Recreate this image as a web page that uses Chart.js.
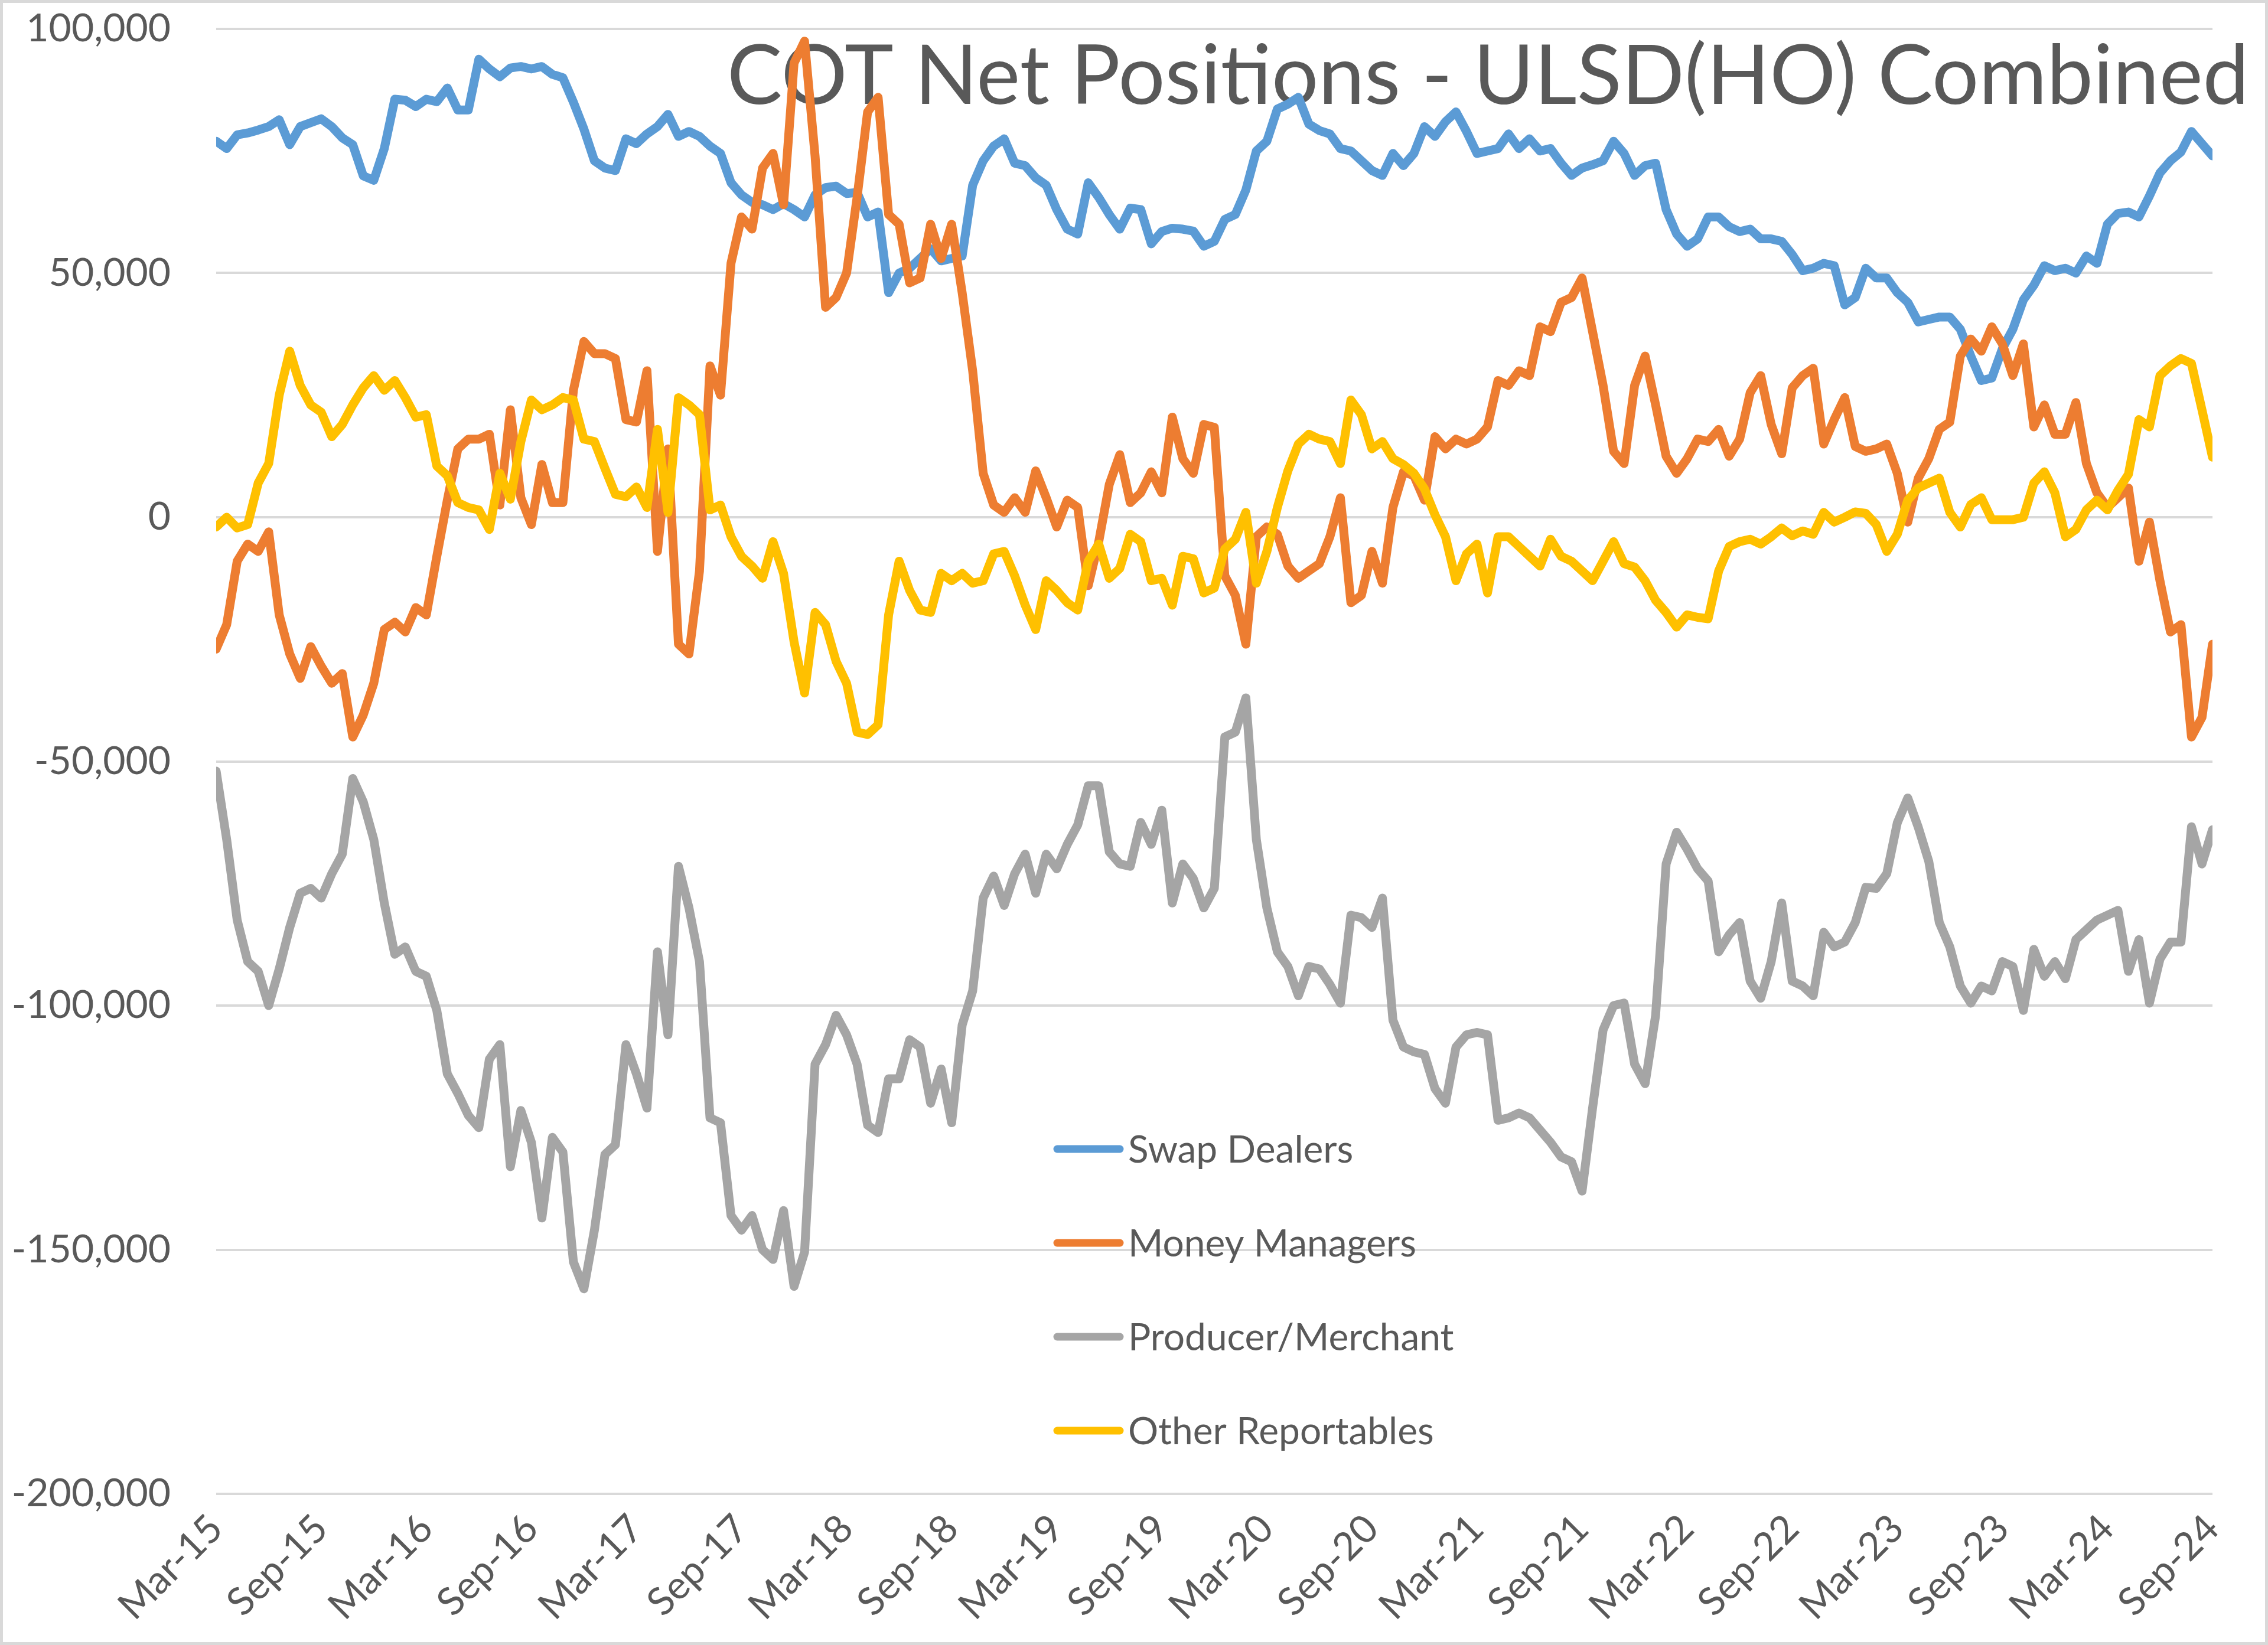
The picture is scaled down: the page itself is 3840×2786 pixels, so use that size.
<!DOCTYPE html>
<html>
<head>
<meta charset="utf-8">
<title>COT Net Positions - ULSD(HO) Combined</title>
<script src="https://cdn.jsdelivr.net/npm/chart.js@4.4.1/dist/chart.umd.min.js"></script>
<style>
  html, body { margin: 0; padding: 0; background: #fff; }
  canvas { display: block; }
</style>
</head>
<body>
<canvas id="cot" width="3840" height="2786"></canvas>
<script>
// ---- data (net positions, thousands of contracts, ~2.6 week steps, Mar-15 .. Sep-24) ----
const chartTitle = 'COT Net Positions - ULSD(HO) Combined';

// one label every 10 points (half-year)
const tickLabels = ['Mar-15', 'Sep-15', 'Mar-16', 'Sep-16', 'Mar-17', 'Sep-17', 'Mar-18', 'Sep-18',
  'Mar-19', 'Sep-19', 'Mar-20', 'Sep-20', 'Mar-21', 'Sep-21', 'Mar-22', 'Sep-22', 'Mar-23', 'Sep-23',
  'Mar-24', 'Sep-24'];

const swapDealers = [
  77, 75.5, 78.3, 78.7, 79.3, 80, 81.4, 76.3, 80, 80.8, 81.6, 80, 77.7, 76.3, 69.9, 69, 75.5, 85.6, 85.4, 84.1,
  85.6, 85.1, 87.9, 83.4, 83.4, 93.8, 91.8, 90.2, 92, 92.3, 91.8, 92.3, 90.7,
  90, 85, 79.5, 73, 71.5, 71, 77.5, 76.5, 78.5, 80, 82.5, 78, 79, 78, 76, 74.5, 68.5, 66, 64.5, 64,
  63, 64.2, 63, 61.5, 66, 67.5, 67.8, 66.3, 66.5, 61.5, 62.5, 46,
  50, 51, 53, 55, 52.5, 53, 53.5, 68, 73, 76, 77.5, 72.5, 72, 69.5, 68, 63, 59, 58, 68.5, 65.5,
  62, 59, 63.3, 63, 56, 58.5, 59.2, 59, 58.6, 55.5, 56.5, 61, 62,
  67, 75, 77, 83.6, 84.6, 86, 80.5, 79.2, 78.5, 75.5, 75, 73, 71, 70, 74.5, 72, 74.5, 80, 78, 81,
  83, 79, 74.5, 75, 75.5, 78.5, 75.5, 77.5, 75, 75.5, 72.5, 70, 71.5,
  72.2, 73, 77, 74.5, 70, 72, 72.5, 63, 58, 55.5, 57, 61.5, 61.5, 59.5, 58.5, 59, 57, 57, 56.5, 53.8,
  50.5, 51, 52, 51.5, 43.5, 45, 51, 49, 49, 46, 44, 40,
  40.5, 41, 41, 38.5, 33, 28, 28.5, 34.5, 38.5, 44.5, 47.5, 51.5, 50.5, 51, 50, 53.5, 52, 60, 62.2, 62.5,
  61.5, 65.8, 70.5, 73, 74.8, 79, 76.5, 74
];

const moneyManagers = [
  -27, -22, -9, -5.5, -7, -3, -20, -28, -33, -26.5, -30.5, -34, -32, -45, -40.5, -34, -23, -21.5, -23.5, -18.5,
  -20, -8, 3.5, 14, 16, 16, 17, 2.5, 22, 4, -1.5, 10.8, 3,
  3, 26, 36, 33.5, 33.5, 32.5, 20, 19.5, 30, -7, 14, -26, -28, -11, 31, 25, 52, 61.5, 59, 71.5,
  74.5, 64, 93, 97.5, 74, 43, 45, 50, 65.5, 83, 86, 62,
  60, 48, 49, 60, 53, 60, 46, 30, 9, 2.5, 1, 4, 1, 9.5, 4, -2, 3.5, 2, -14, -5,
  6.7, 12.8, 3, 5, 9.3, 5, 20.5, 12, 9, 19, 18.4, -12, -16,
  -26, -4, -2, -3.5, -10, -12.5, -11, -9.5, -4, 4, -17.5, -16, -7, -13.5, 2, 9.3, 8.5, 3.5, 16.5, 14,
  16, 15, 16, 18.5, 28, 27, 30, 29, 39, 38, 44, 45, 49,
  38, 27, 13.5, 11, 27, 33, 23, 12.5, 9, 12, 16, 15.5, 18, 12.5, 16, 25.5, 29, 19, 13, 26.5,
  29, 30.5, 15, 20, 24.5, 14.5, 13.5, 14, 15, 9, -1, 8,
  12, 18, 19.5, 33, 36.5, 34, 39, 35.5, 29, 35.5, 18.5, 23, 17, 17, 23.5, 11, 5, 2, 4, 6,
  -9, -1, -13, -23.5, -22, -45, -41, -26
];

const producerMerchant = [
  -52, -66, -82.5, -91, -93, -100, -92.5, -84, -77, -76, -78, -73, -69, -53.5, -58.3, -66, -79, -89.5, -88, -93,
  -94, -101, -114, -118, -122.5, -125, -111, -108, -133, -121.5, -128, -143.5, -127,
  -130, -152.5, -158, -146, -130.5, -128.5, -108, -114, -121, -89, -106, -71.5, -80, -91, -123, -124, -143, -146, -143, -150,
  -152, -142, -157.5, -150.5, -112, -108, -102, -106, -112, -124.5, -126, -115,
  -115, -107, -108.5, -120, -113, -124, -104, -97, -78, -73.5, -79.5, -73, -69, -77, -69, -72, -67, -63, -55, -55,
  -68.5, -71, -71.5, -62.5, -67, -60, -79, -71, -74, -80, -76, -45, -44,
  -37, -66, -80, -89, -92, -98, -92, -92.5, -95.7, -99.5, -81.5, -82, -84, -78, -103, -108.5, -109.5, -110, -117, -120,
  -108.5, -106, -105.5, -106, -123.5, -123, -122, -123, -125.5, -128, -131, -132, -138,
  -121, -105, -100, -99.5, -112, -116, -102, -71, -64.5, -68, -72, -74.5, -89, -85.5, -83, -95, -98.5, -91, -79, -95,
  -96, -98, -85, -88, -87, -83, -75.8, -76, -73, -62.6, -57.5, -63.5,
  -70.5, -83, -88, -96, -99.5, -96, -97, -91, -92, -101, -88.5, -94, -91, -94.5, -86.5, -84.5, -82.5, -81.5, -80.5, -93,
  -86.5, -99.5, -90.5, -87, -87, -63.4, -71, -64
];

const otherReportables = [
  -2, 0, -2.2, -1.5, 7, 11, 25, 34, 27, 23, 21.5, 16.5, 19, 23, 26.5, 29, 26, 28, 24.5, 20.5,
  21, 10.5, 8.5, 3, 2, 1.5, -2.5, 9, 3.7, 15.5, 24, 22, 23,
  24.5, 24, 16, 15.5, 10, 4.7, 4.2, 6.2, 2, 18, 1, 24.5, 23, 21, 1.5, 2.5, -4, -8, -10, -12.5,
  -5, -11.5, -25.5, -36, -19.5, -22, -29.5, -34, -44, -44.5, -42.5, -20,
  -9, -15, -19, -19.5, -11.5, -13, -11.5, -13.5, -13, -7.5, -7, -12, -18, -23, -13, -15, -17.5, -19, -9, -5.5,
  -12.5, -10.5, -3.5, -5, -13, -12.5, -18, -8, -8.5, -15.5, -14.5, -6.5, -4.5,
  1, -13.5, -7, 2, 9.5, 15, 17, 16, 15.5, 11, 24, 21, 14, 15.5, 12, 10.8, 9, 5.8, 0.5, -4,
  -13, -7.5, -5.5, -15.5, -4, -4, -6, -8, -10, -4.5, -8, -9, -11,
  -13, -9, -5, -9.5, -10.2, -13, -17, -19.5, -22.5, -20, -20.5, -20.8, -11, -6, -5, -4.5, -5.5, -4, -2.2, -3.8,
  -2.8, -3.5, 1, -1, 0, 1.1, 0.8, -1.5, -7, -3.5, 3.5, 6,
  7, 8, 1, -2, 2.6, 4, -0.5, -0.5, -0.5, 0, 7, 9.3, 5, -4, -2.5, 1.5, 3.5, 1.5, 5.5, 8.8,
  20, 18.5, 29, 31, 32.5, 31.5, 22, 12.3
];

const seriesNames = ['Swap Dealers', 'Money Managers', 'Producer/Merchant', 'Other Reportables'];
const seriesColors = ['#5B9BD5', '#ED7D31', '#A5A5A5', '#FFC000'];

const POINTS_PER_LABEL = 10;
const TEXT_GREY = '#595959';
const FONT = 'Lato, "Open Sans", sans-serif';

const toPoints = arr => arr.map((v, i) => ({ x: i, y: v * 1000 }));

// ---- plugins ----
// title sits inside the plot area (top right), under the lines
const overlayTitle = {
  id: 'overlayTitle',
  beforeDatasetsDraw(chart) {
    const { ctx } = chart;
    ctx.save();
    ctx.font = `140px ${FONT}`;
    ctx.fillStyle = TEXT_GREY;
    ctx.textAlign = 'right';
    ctx.textBaseline = 'alphabetic';
    ctx.fillText(chartTitle, 3808, 176);
    ctx.restore();
  }
};

// excel-like legend floating inside the plot
const insideLegend = {
  id: 'insideLegend',
  afterDatasetsDraw(chart) {
    const { ctx } = chart;
    const top = 1946, gap = 159;
    ctx.save();
    ctx.font = `64px ${FONT}`;
    ctx.textBaseline = 'middle';
    ctx.textAlign = 'left';
    chart.data.datasets.forEach((ds, k) => {
      const y = top + k * gap;
      ctx.strokeStyle = ds.borderColor;
      ctx.lineWidth = 13;
      ctx.lineCap = 'round';
      ctx.beginPath();
      ctx.moveTo(1790, y);
      ctx.lineTo(1896, y);
      ctx.stroke();
      ctx.fillStyle = TEXT_GREY;
      ctx.fillText(ds.label, 1910, y + 2);
    });
    ctx.restore();
  }
};

// white background + thin chart border
const chartFrame = {
  id: 'chartFrame',
  beforeDraw(chart) {
    const { ctx, width, height } = chart;
    ctx.save();
    ctx.fillStyle = '#ffffff';
    ctx.fillRect(0, 0, width, height);
    ctx.restore();
  },
  afterDraw(chart) {
    const { ctx, width, height } = chart;
    ctx.save();
    ctx.strokeStyle = '#d9d9d9';
    ctx.lineWidth = 5;
    ctx.strokeRect(2.5, 2.5, width - 5, height - 5);
    ctx.restore();
  }
};

const seriesData = [swapDealers, moneyManagers, producerMerchant, otherReportables];
// later series are painted on top (Excel order)
const drawOrder = [3, 2, 1, 0];

const datasets = seriesData.map((arr, k) => ({
  label: seriesNames[k],
  data: toPoints(arr),
  borderColor: seriesColors[k],
  backgroundColor: seriesColors[k],
  borderWidth: 15,
  pointRadius: 0,
  tension: 0,
  borderJoinStyle: 'round',
  borderCapStyle: 'round',
  order: drawOrder[k],
}));

Chart.defaults.font.family = FONT;

new Chart(document.getElementById('cot').getContext('2d'), {
  type: 'line',
  data: { datasets },
  options: {
    responsive: false,
    animation: false,
    devicePixelRatio: 1,
    layout: { padding: { top: 49, right: 94, left: 0, bottom: 0 } },
    plugins: {
      legend: { display: false },
      title: { display: false },
      tooltip: { enabled: false },
    },
    scales: {
      x: {
        type: 'linear',
        min: 0,
        max: (tickLabels.length - 1) * POINTS_PER_LABEL,
        grid: { display: false },
        border: { display: false },
        ticks: {
          stepSize: POINTS_PER_LABEL,
          autoSkip: false,
          maxTicksLimit: 100,
          minRotation: 45,
          maxRotation: 45,
          padding: 12,
          color: TEXT_GREY,
          font: { size: 66 },
          callback: v => tickLabels[Math.round(v / POINTS_PER_LABEL)] ?? '',
        },
        afterFit: s => { s.height = 256; s.paddingLeft = 0; s.paddingRight = 0; },
      },
      y: {
        min: -200000,
        max: 100000,
        grid: { color: '#d9d9d9', lineWidth: 4, drawTicks: false },
        border: { display: false },
        ticks: {
          stepSize: 50000,
          padding: 77,
          color: TEXT_GREY,
          font: { size: 66 },
          callback: v => v.toLocaleString('en-US'),
        },
        // keep the plot edges where the reference has them
        afterFit: s => { s.width = 366; s.paddingTop = 0; s.paddingBottom = 0; },
      },
    },
  },
  plugins: [chartFrame, overlayTitle, insideLegend],
});
</script>
</body>
</html>
